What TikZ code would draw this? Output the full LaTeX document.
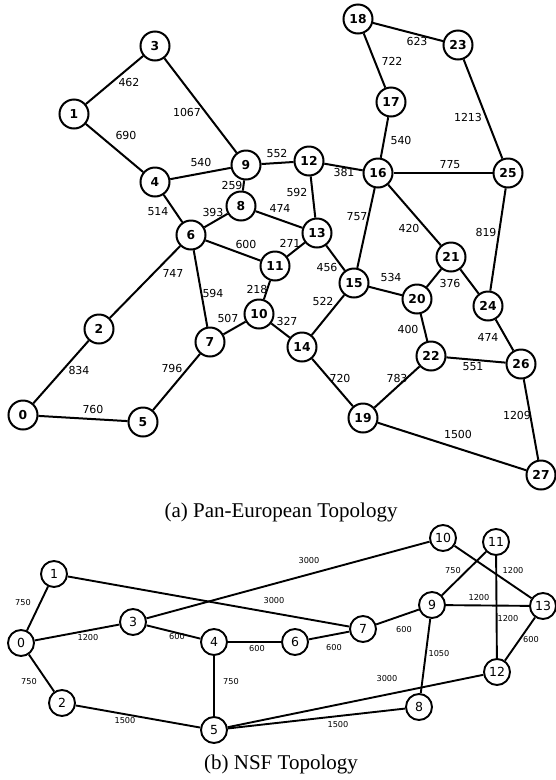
\documentclass[tikz,border=0pt]{standalone}
\usepackage{fontspec}
\setmainfont{Liberation Serif}
\newfontfamily\djv{DejaVu Sans}
\tikzset{
  tnode/.style={circle,draw,line width=2pt,minimum size=29pt,inner sep=0pt,font=\djv\bfseries\fontsize{12.3}{13}\selectfont},
  bnode/.style={circle,draw,line width=1.9pt,minimum size=26pt,inner sep=0pt,font=\djv\fontsize{12.5}{13}\selectfont},
  tedge/.style={line width=2pt},
  bedge/.style={line width=1.9pt},
  tlbl/.style={font=\djv\fontsize{11}{12}\selectfont,inner sep=0pt},
  blbl/.style={font=\djv\fontsize{8.2}{9}\selectfont,inner sep=0pt},
  captext/.style={font=\fontsize{21}{23}\selectfont,inner sep=0pt}
}
\begin{document}
\begin{tikzpicture}[x=1pt,y=-1pt]
\useasboundingbox (0,0) rectangle (555,780);
% ---------- top: Pan-European ----------
\foreach \n/\x/\y in {0/23/415,1/74/114,2/99/329,3/155/46,4/155/182,5/143/422,6/191/235,7/210/342,8/241/206,9/246/165,10/259/314,11/275/266,12/309/161,13/317/233,14/302/347,15/354/283,16/378/173,17/391/102,18/358/19,19/363/418,20/417/299,21/451/257,22/431/356,23/458/45,24/488/306,25/508/173,26/521/364,27/541/475}
  \node[tnode] (t\n) at (\x,\y) {\n};
\foreach \a/\b in {1/3,1/4,3/9,4/9,4/6,9/12,9/8,8/6,8/13,12/16,12/13,6/11,6/2,6/7,13/11,13/15,11/10,10/7,10/14,7/5,2/0,0/5,16/17,17/18,18/23,23/25,16/25,16/15,16/21,25/24,21/20,21/24,15/20,15/14,20/22,24/26,22/26,22/19,14/19,19/27,26/27}
  \draw[tedge] (t\a) -- (t\b);
\foreach \t/\x/\y in {462/129/82,1067/187/112,690/126/135,540/201/162,259/232/185,514/158/212,393/213/212,600/246/244,552/277/153,
  623/417/41,722/392/61,1213/468/117,540/401/140,381/344/172,775/450/165,592/297/192,474/280/208,757/357/217,420/409/228,819/486/232,
  747/173/273,594/213/293,218/257/289,507/228/318,834/79/370,796/172/368,760/93/409,
  271/290/243,456/327/267,534/391/277,376/450/283,522/323/301,327/287/321,400/408/329,474/488/337,720/340/378,783/397/378,551/473/367,1209/517/415,1500/458/434}
  \node[tlbl] at (\x,\y) {\t};
\node[captext] (capa) at (281,512) {(a) Pan-European Topology};
% ---------- bottom: NSF ----------
\foreach \n/\x/\y in {0/21/643,1/54/574,2/62/703,3/133/622,4/214/642,5/214/730,6/295/642,7/363/629,8/419/707,9/432/605,10/443/538,11/496/542,12/497/672,13/543/606}
  \node[bnode] (b\n) at (\x,\y) {\n};
\foreach \a/\b in {0/1,0/3,0/2,1/7,3/10,3/4,4/6,4/5,2/5,6/7,7/9,9/11,9/13,9/8,10/13,11/12,13/12,5/12,5/8}
  \draw[bedge] (b\a) -- (b\b);
\foreach \t/\x/\y in {750/23/603,1200/88/638,600/177/637,600/257/649,750/29/682,750/231/682,1500/125/721,
  3000/309/561,3000/274/601,750/453/571,1200/513/571,1200/479/598,1200/508/619,600/404/630,600/334/648,600/531/640,1050/439/654,3000/387/679,1500/338/725}
  \node[blbl] at (\x,\y) {\t};
\node[captext] (capb) at (281,764) {(b) NSF Topology};
\end{tikzpicture}
\end{document}
